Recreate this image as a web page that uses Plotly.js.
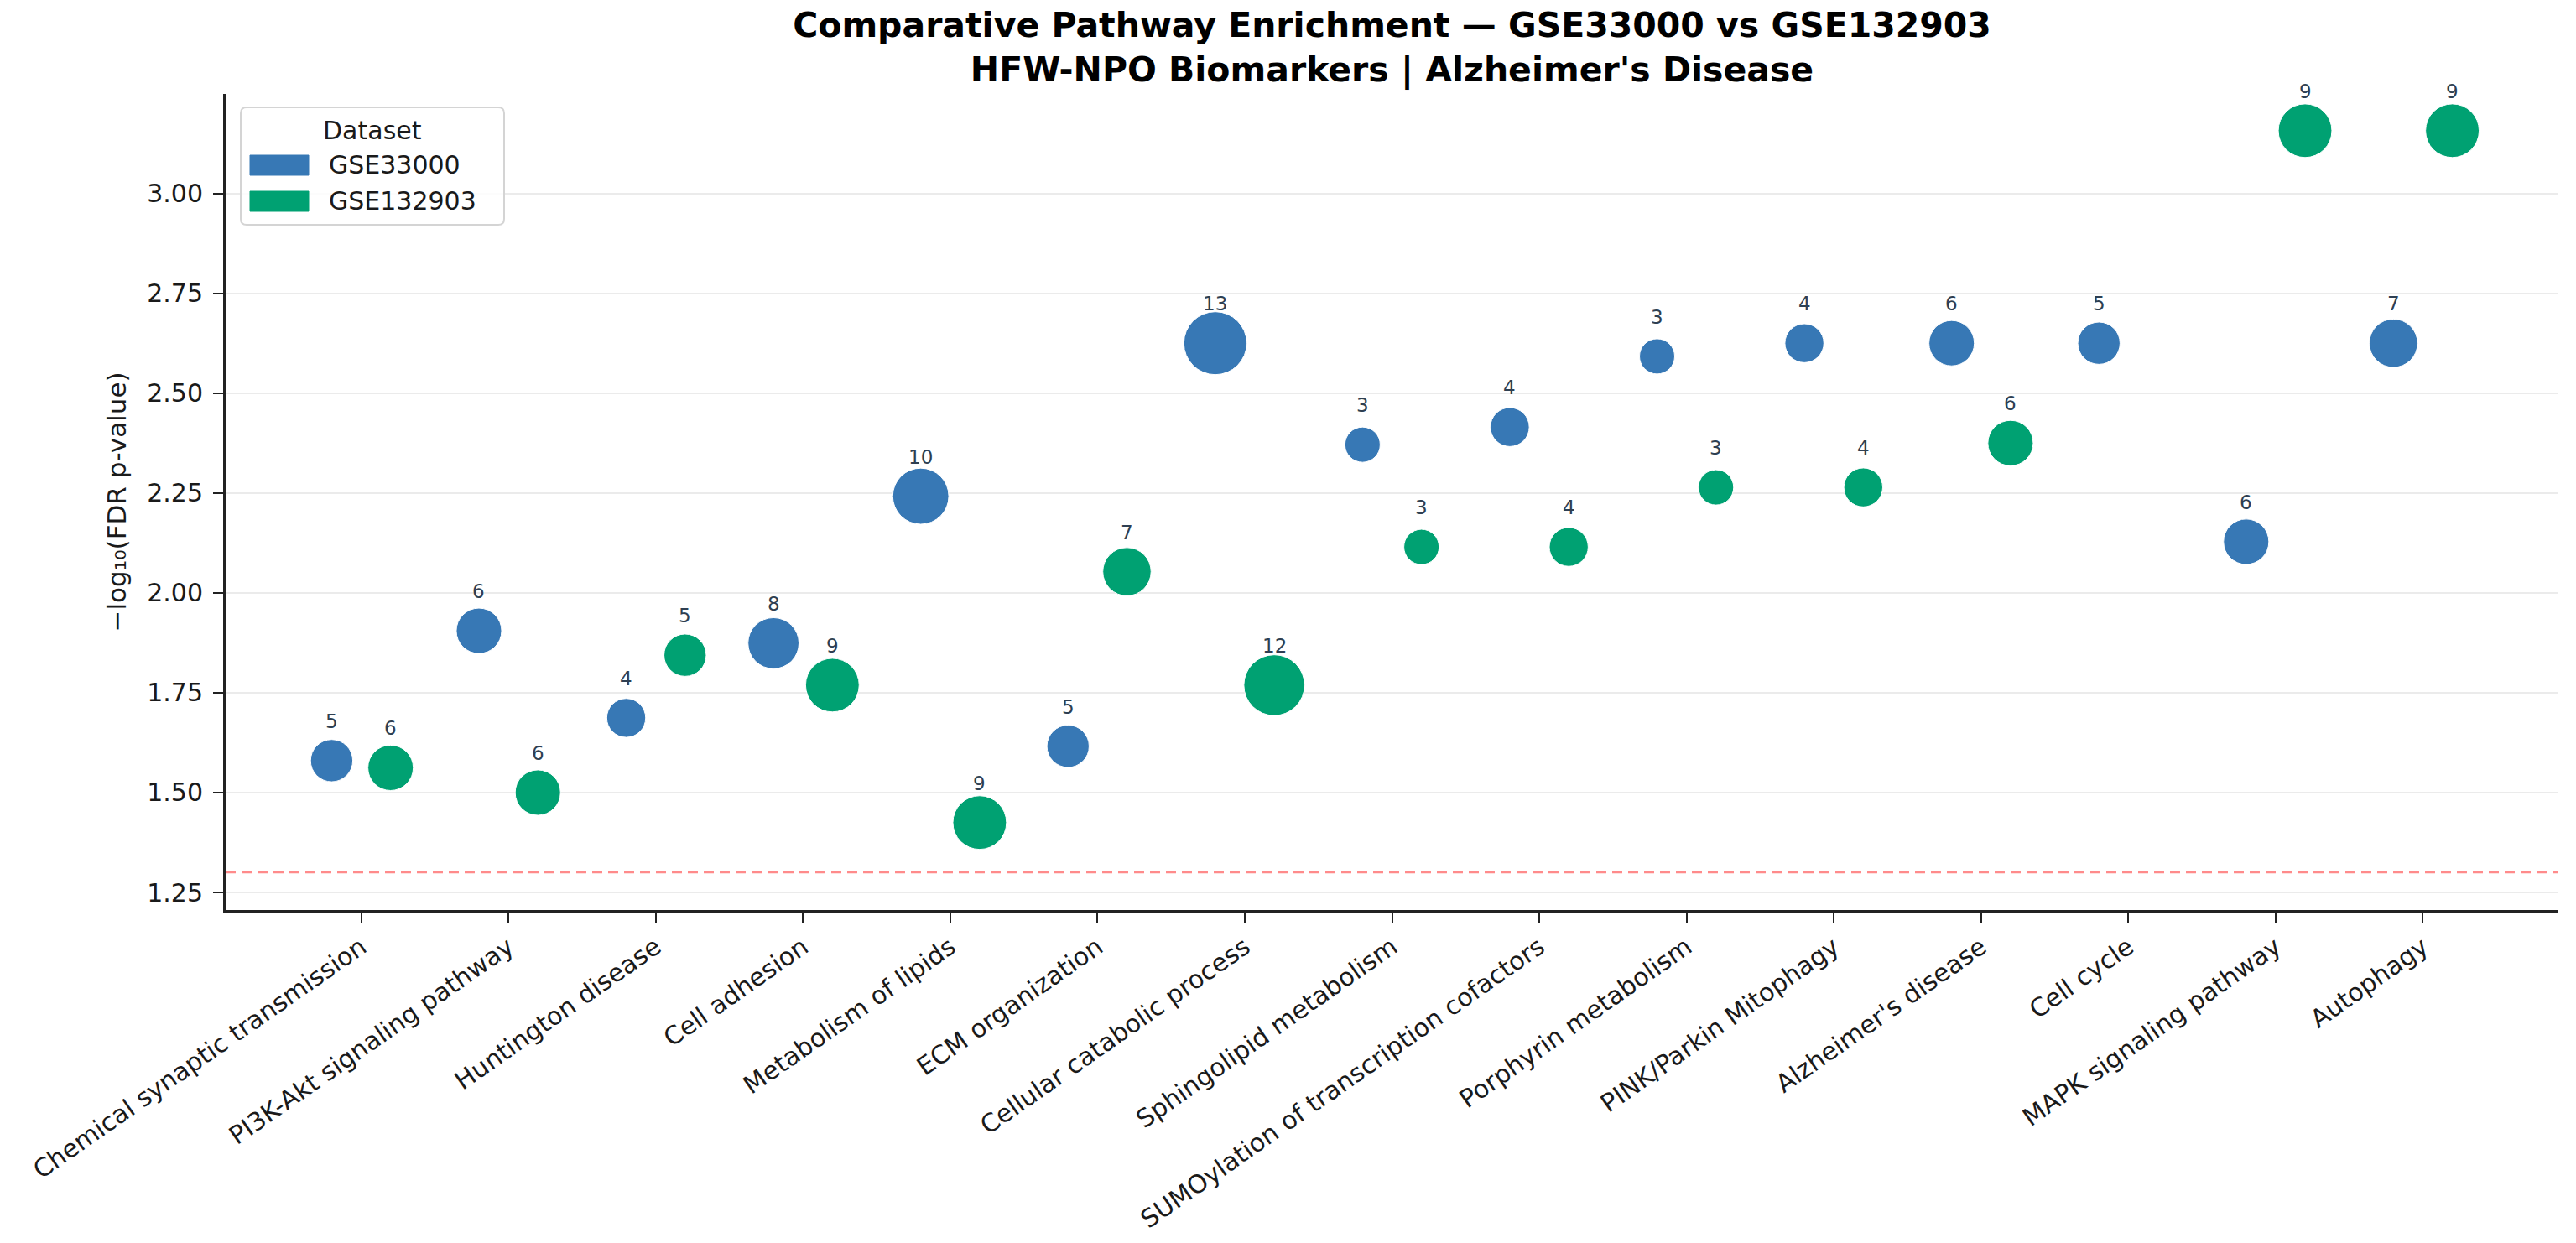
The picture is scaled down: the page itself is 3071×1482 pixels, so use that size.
<!DOCTYPE html>
<html>
<head>
<meta charset="utf-8">
<script src="https://cdn.plot.ly/plotly-3.0.1.min.js"></script>
<style>
  html, body { margin: 0; padding: 0; background: #ffffff; }
  #chart { width: 3071px; height: 1482px; }
</style>
</head>
<body>
<div id="chart"></div>
<script>
// Pathways (x-axis categories)
const categories = [
  "Chemical synaptic transmission",
  "PI3K-Akt signaling pathway",
  "Huntington disease",
  "Cell adhesion",
  "Metabolism of lipids",
  "ECM organization",
  "Cellular catabolic process",
  "Sphingolipid metabolism",
  "SUMOylation of transcription cofactors",
  "Porphyrin metabolism",
  "PINK/Parkin Mitophagy",
  "Alzheimer's disease",
  "Cell cycle",
  "MAPK signaling pathway",
  "Autophagy"
];

// -log10(FDR) per pathway and number of overlapping genes, per dataset
const gse33000Score = [1.580, 1.905, 1.687, 1.874, 2.242, 1.616, 2.625, 2.371, 2.415, 2.592, 2.625, 2.625, 2.625, 2.128, 2.625];
const gse33000Genes = [5, 6, 4, 8, 10, 5, 13, 3, 4, 3, 4, 6, 5, 6, 7];

const gse132903Score = [1.562, 1.500, 1.844, 1.769, 1.425, 2.053, 1.769, 2.115, 2.115, 2.264, 2.264, 2.375, null, 3.157, 3.157];
const gse132903Genes = [6, 6, 5, 9, 9, 7, 12, 3, 4, 3, 4, 6, null, 9, 9];

const datasetNames = ["GSE33000", "GSE132903"];
const datasetColors = ["#3778b5", "#00a172"];

const fdrCutoff = 0.05;

// ---- geometry of the figure ----
const W = 3071, H = 1482;
const M = { l: 269, r: 21, t: 112, b: 397 };
const PW = W - M.l - M.r, PH = H - M.t - M.b;
const px = x => (x - M.l) / PW;          // pixel -> paper x
const py = y => (M.t + PH - y) / PH;     // pixel -> paper y

const dodge = 0.2;          // horizontal offset of each dataset within a category
const labelShift = 47;      // gene-count label sits this many px above the bubble centre
const bubbleDiameter = n => Math.sqrt(386 * n + 606);

const traces = [];
const annotations = [];

function addDataset(scores, genes, side, color, name) {
  const xs = [], ys = [], sz = [];
  scores.forEach((v, i) => {
    if (v === null || genes[i] === null) return;
    const x = i + side * dodge;
    xs.push(x);
    ys.push(v);
    sz.push(bubbleDiameter(genes[i]));
    // gene count above each bubble
    annotations.push({
      xref: "x", yref: "y", x: x, y: v, yshift: labelShift,
      xanchor: "center", yanchor: "middle", showarrow: false,
      text: String(genes[i]),
      font: { family: "DejaVu Sans", size: 23, color: "#2e3f52" }
    });
  });
  traces.push({
    type: "scatter", mode: "markers", name: name, showlegend: false,
    x: xs, y: ys, hoverinfo: "skip", cliponaxis: false,
    marker: { size: sz, color: color, opacity: 1, line: { color: "#ffffff", width: 1 } }
  });
}

addDataset(gse33000Score, gse33000Genes, -1, datasetColors[0], datasetNames[0]);
addDataset(gse132903Score, gse132903Genes, 1, datasetColors[1], datasetNames[1]);

// ---- legend box drawn as shapes + annotations ----
function roundedRectPath(x0, y0, x1, y1, r) {
  const P = (x, y) => px(x).toFixed(6) + "," + py(y).toFixed(6);
  return "M" + P(x0 + r, y0) +
    " L" + P(x1 - r, y0) + " Q" + P(x1, y0) + " " + P(x1, y0 + r) +
    " L" + P(x1, y1 - r) + " Q" + P(x1, y1) + " " + P(x1 - r, y1) +
    " L" + P(x0 + r, y1) + " Q" + P(x0, y1) + " " + P(x0, y1 - r) +
    " L" + P(x0, y0 + r) + " Q" + P(x0, y0) + " " + P(x0 + r, y0) + " Z";
}

const legendBox = { x0: 287, y0: 128, x1: 601, y1: 268 };
const legendRows = [197, 240];
const shapes = [
  {
    type: "line", xref: "paper", yref: "y", x0: 0, x1: 1,
    y0: -Math.log10(fdrCutoff), y1: -Math.log10(fdrCutoff),
    line: { color: "rgba(255,90,90,0.7)", width: 3, dash: "12px,7px" }, layer: "above"
  },
  {
    type: "path", xref: "paper", yref: "paper",
    path: roundedRectPath(legendBox.x0, legendBox.y0, legendBox.x1, legendBox.y1, 7),
    fillcolor: "rgba(255,255,255,0.85)", line: { color: "#d4d4d4", width: 2 }, layer: "above"
  }
];
annotations.push({
  xref: "paper", yref: "paper", x: px((legendBox.x0 + legendBox.x1) / 2), y: py(155),
  xanchor: "center", yanchor: "middle", showarrow: false, text: "Dataset",
  font: { family: "DejaVu Sans", size: 30, color: "#1a1a1a" }
});
datasetNames.forEach((nm, k) => {
  const yc = legendRows[k];
  shapes.push({
    type: "rect", xref: "paper", yref: "paper",
    x0: px(298), x1: px(368), y0: py(yc - 12), y1: py(yc + 12),
    fillcolor: datasetColors[k], line: { color: datasetColors[k], width: 1 }, layer: "above"
  });
  annotations.push({
    xref: "paper", yref: "paper", x: px(390), y: py(yc),
    xanchor: "left", yanchor: "middle", showarrow: false, text: nm,
    font: { family: "DejaVu Sans", size: 30, color: "#1a1a1a" }
  });
});

const layout = {
  width: W, height: H,
  margin: { l: M.l, r: M.r, t: M.t, b: M.b, pad: 0 },
  paper_bgcolor: "#ffffff", plot_bgcolor: "#ffffff",
  font: { family: "DejaVu Sans", color: "#1a1a1a" },
  showlegend: false,
  title: {
    text: "Comparative Pathway Enrichment — GSE33000 vs GSE132903<br>HFW-NPO Biomarkers | Alzheimer's Disease",
    font: { family: "DejaVu Sans", size: 41, weight: "bold", color: "#000000" },
    x: 0.5, xref: "paper", xanchor: "center",
    y: 1 - 44 / H, yref: "container", yanchor: "top"
  },
  xaxis: {
    type: "linear", range: [-0.92, 14.92],
    tickmode: "array", tickvals: categories.map((_, i) => i), ticktext: categories,
    tickangle: -35, tickfont: { family: "DejaVu Sans", size: 30, color: "#1a1a1a" },
    ticks: "outside", ticklen: 12, tickwidth: 2, tickcolor: "#222222",
    showline: true, linecolor: "#222222", linewidth: 3, mirror: false,
    showgrid: false, zeroline: false
  },
  yaxis: {
    range: [1.206, 3.249], tick0: 1.25, dtick: 0.25, tickformat: ".2f",
    tickfont: { family: "DejaVu Sans", size: 30, color: "#1a1a1a" },
    ticks: "outside", ticklen: 12, tickwidth: 2, tickcolor: "#222222",
    ticklabelstandoff: 6,
    showline: true, linecolor: "#222222", linewidth: 3, mirror: false,
    showgrid: true, gridcolor: "#ebebeb", gridwidth: 2, zeroline: false,
    title: {
      text: "−log₁₀(FDR p-value)", standoff: 16,
      font: { family: "DejaVu Sans", size: 31, color: "#1a1a1a" }
    }
  },
  shapes: shapes,
  annotations: annotations
};

Plotly.newPlot("chart", traces, layout, { staticPlot: true, displayModeBar: false });
</script>
</body>
</html>
